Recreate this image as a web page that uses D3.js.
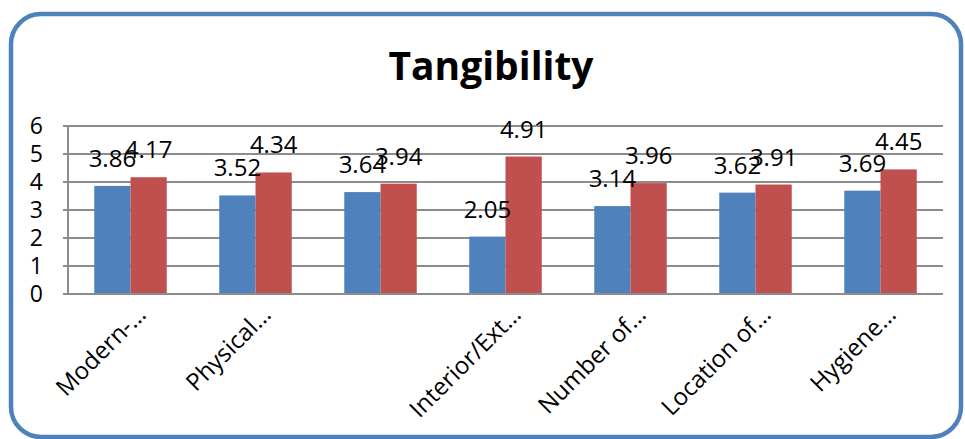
<!DOCTYPE html>
<html><head><meta charset="utf-8">
<script src="https://cdn.jsdelivr.net/npm/d3@7"></script>
<style>body{margin:0;background:#fff}svg{display:block}text{font-family:"Open Sans",sans-serif}</style>
</head><body>
<svg id="c" width="965" height="439"></svg>
<script>
const categories = ["Modern-\u2026","Physical\u2026","","Interior/Ext\u2026","Number of\u2026","Location of\u2026","Hygiene\u2026"];
const series1 = [3.86,3.52,3.64,2.05,3.14,3.62,3.69];
const series2 = [4.17,4.34,3.94,4.91,3.96,3.91,4.45];
const yTicks = [0,1,2,3,4,5,6];
const title = "Tangibility";

const svg = d3.select("#c");
svg.append("rect").attr("x",11).attr("y",14).attr("width",950).attr("height",423)
  .attr("rx",30).attr("ry",30).attr("fill","#fff").attr("stroke","#4F81BD").attr("stroke-width",4.5);

const t = svg.append("text").attr("x",491).attr("y",80).attr("text-anchor","middle")
  .attr("font-weight","bold").attr("font-size",40).text(title);
const tw = t.node().getComputedTextLength();
t.attr("font-size", 40*205/tw);

const L=68,R=943,T=126,B=294;
const x = d3.scaleBand().domain(d3.range(categories.length)).range([L,R]).paddingInner(0.42).paddingOuter(0.21);
const y = d3.scaleLinear().domain([0,6]).range([B,T]);
const xs = d3.scaleBand().domain([0,1]).range([0,x.bandwidth()]);

const g = svg.append("g");
g.selectAll("line.grid").data(yTicks).join("line").attr("class","grid")
  .attr("x1",L-5).attr("x2",R).attr("y1",d=>y(d)).attr("y2",d=>y(d))
  .attr("stroke","#8c8c8c").attr("stroke-width",2);
g.append("line").attr("x1",L).attr("x2",L).attr("y1",T).attr("y2",B).attr("stroke","#8c8c8c").attr("stroke-width",2);

g.selectAll("text.yt").data(yTicks).join("text").attr("class","yt")
  .attr("x",43).attr("y",d=>y(d)).attr("dy","0.36em").attr("text-anchor","end")
  .attr("font-size",23).text(d=>d);

const data = categories.map((c,i)=>({i,vals:[series1[i],series2[i]]}));
const colors=["#4F81BD","#C0504D"];
const grp = g.selectAll("g.cat").data(data).join("g").attr("transform",d=>`translate(${x(d.i)},0)`);
grp.selectAll("rect").data(d=>d.vals.map((v,k)=>({v,k}))).join("rect")
  .attr("x",d=>xs(d.k)).attr("width",xs.bandwidth()).attr("y",d=>y(d.v)).attr("height",d=>B-y(d.v))
  .attr("fill",d=>colors[d.k]);
g.append("line").attr("x1",L).attr("x2",R).attr("y1",B).attr("y2",B).attr("stroke","#8c8c8c").attr("stroke-width",2);
grp.selectAll("text.dl").data(d=>d.vals.map((v,k)=>({v,k}))).join("text").attr("class","dl")
  .attr("x",d=>xs(d.k)+xs.bandwidth()/2).attr("y",d=>y(d.v)-19).attr("text-anchor","middle")
  .attr("font-size",24).text(d=>d3.format(".2f")(d.v));

g.selectAll("text.cat").data(categories).join("text").attr("class","cat")
  .attr("transform",(d,i)=>`translate(${x(i)+x.bandwidth()/2+17},316) rotate(-45)`)
  .attr("text-anchor","end").attr("font-size",24).text(d=>d);
</script>
</body></html>
